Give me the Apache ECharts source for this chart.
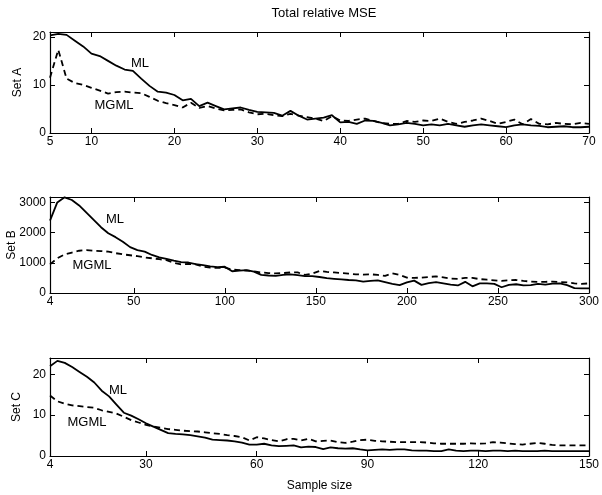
<!DOCTYPE html>
<html>
<head>
<meta charset="utf-8">
<script src="https://cdn.jsdelivr.net/npm/echarts@6/dist/echarts.min.js"></script>
<style>
  html, body { margin: 0; padding: 0; background: #fff; }
  #main { width: 602px; height: 495px; }
</style>
</head>
<body>
<div id="main"></div>
<script>
// sample sizes (x grid of each panel)
function range(a, b, step) {
    const out = [];
    for (let v = a; v <= b; v += step) out.push(v);
    return out;
}
const sizesA = range(5, 70, 1);
const sizesB = range(4, 300, 4);
const sizesC = range(4, 150, 2);

// Set A
const mlA = [20.3, 20.6, 20.4, 19.2, 18.0, 16.5, 16.0, 15.0, 14.0, 13.2,
    12.9, 11.3, 9.8, 8.6, 8.4, 7.9, 6.8, 7.1, 5.6, 6.3,
    5.6, 4.9, 5.1, 5.3, 4.8, 4.4, 4.3, 4.2, 3.6, 4.6,
    3.6, 2.8, 3.0, 3.2, 3.7, 2.2, 2.3, 1.9, 2.6, 2.5,
    2.1, 1.6, 1.8, 2.1, 1.9, 1.6, 1.8, 1.6, 1.9, 1.6,
    1.3, 1.6, 1.8, 1.6, 1.4, 1.2, 1.6, 1.8, 1.6, 1.5,
    1.2, 1.3, 1.4, 1.2, 1.2, 1.3];
const mgmlA = [11.5, 17.3, 11.3, 10.4, 10.0, 9.4, 8.8, 8.2, 8.5, 8.6,
    8.4, 8.3, 7.5, 6.7, 6.2, 5.8, 5.3, 6.3, 5.2, 5.6,
    5.1, 4.7, 4.8, 4.9, 4.3, 3.9, 4.0, 3.7, 3.5, 4.0,
    3.6, 3.3, 3.0, 2.5, 3.5, 2.6, 2.5, 2.8, 3.0, 2.5,
    2.1, 1.9, 1.9, 2.5, 2.3, 2.6, 2.5, 3.0, 2.3, 1.9,
    2.3, 2.6, 3.0, 2.5, 1.9, 2.3, 2.8, 1.8, 2.9, 1.9,
    1.8, 2.1, 1.9, 1.8, 2.1, 1.9];

// Set B
const mlB = [2400, 3000, 3170, 3080, 2900, 2660, 2420, 2180, 1980, 1850,
    1700, 1520, 1420, 1370, 1260, 1180, 1130, 1070, 1020, 1010,
    960, 920, 880, 860, 870, 720, 740, 760, 710, 600,
    580, 570, 600, 620, 590, 560, 560, 530, 490, 470,
    450, 430, 420, 380, 400, 420, 360, 300, 260, 350,
    410, 270, 330, 360, 320, 280, 250, 370, 220, 320,
    320, 300, 190, 270, 290, 250, 260, 300, 280, 310,
    320, 260, 160, 150, 150];
const mgmlB = [950, 1150, 1280, 1340, 1400, 1420, 1400, 1390, 1370, 1320,
    1280, 1250, 1220, 1180, 1150, 1120, 1090, 1000, 950, 960,
    950, 870, 840, 830, 840, 780, 760, 740, 720, 680,
    660, 650, 660, 680, 680, 600, 640, 730, 700, 680,
    660, 640, 620, 610, 620, 600, 570, 650, 600, 510,
    500, 510, 530, 550, 520, 480, 470, 500, 500, 460,
    440, 420, 400, 420, 430, 400, 380, 370, 370, 380,
    360, 350, 320, 300, 320];

// Set C
const mlC = [22.0, 23.3, 22.8, 21.8, 20.6, 19.4, 18.0, 16.0, 14.6, 12.6,
    10.6, 9.9, 9.0, 8.0, 7.2, 6.4, 5.6, 5.4, 5.3, 5.1,
    4.8, 4.5, 4.0, 3.9, 3.8, 3.6, 3.3, 2.8, 2.8, 3.0,
    2.6, 2.4, 2.5, 2.6, 2.1, 2.3, 2.2, 1.7, 2.1, 1.9,
    1.8, 1.9, 1.6, 1.4, 1.5, 1.6, 1.5, 1.6, 1.6, 1.4,
    1.3, 1.3, 1.2, 1.2, 1.6, 1.3, 1.2, 1.3, 1.3, 1.2,
    1.3, 1.3, 1.2, 1.3, 1.2, 1.2, 1.2, 1.3, 1.2, 1.2,
    1.2, 1.2, 1.2, 1.2];
const mgmlC = [14.8, 13.4, 12.8, 12.4, 12.2, 12.0, 11.8, 11.2, 10.8, 10.4,
    9.6, 8.8, 8.2, 7.6, 7.2, 6.9, 6.6, 6.4, 6.2, 6.1,
    6.0, 5.8, 5.6, 5.4, 5.1, 4.9, 4.6, 3.8, 4.6, 4.3,
    3.9, 3.6, 4.1, 4.2, 3.8, 4.2, 3.6, 3.7, 3.8, 3.4,
    3.2, 3.5, 3.9, 4.0, 3.7, 3.6, 3.5, 3.4, 3.4, 3.4,
    3.4, 3.3, 3.1, 3.0, 3.0, 3.0, 3.0, 3.1, 3.0, 3.1,
    3.4, 3.3, 3.1, 2.9, 2.8, 3.0, 3.2, 3.0, 2.7, 2.6,
    2.6, 2.6, 2.6, 2.6];

// tick labels
const xTicksA = [5, 10, 20, 30, 40, 50, 60, 70];
const xTicksB = [4, 50, 100, 150, 200, 250, 300];
const xTicksC = [4, 30, 60, 90, 120, 150];
const yTicksA = [0, 10, 20];
const yTicksB = [0, 1000, 2000, 3000];
const yTicksC = [0, 10, 20];
const setNames = ['Set A', 'Set B', 'Set C'];

const FONT = 'Liberation Sans';
const panels = [
    { x: sizesA, ml: mlA, mgml: mgmlA, xt: xTicksA, yt: yTicksA, xmin: 5, xmax: 70, ymax: 21, top: 32, h: 101, nameX: 18 },
    { x: sizesB, ml: mlB, mgml: mgmlB, xt: xTicksB, yt: yTicksB, xmin: 4, xmax: 300, ymax: 3180, top: 197, h: 96, nameX: 12 },
    { x: sizesC, ml: mlC, mgml: mgmlC, xt: xTicksC, yt: yTicksC, xmin: 4, xmax: 150, ymax: 24, top: 358, h: 98, nameX: 17 }
];

const pairs = (xs, ys) => xs.map((v, i) => [v, ys[i]]);
const boxLine = { show: true, onZero: false, lineStyle: { color: '#000', width: 1.2 } };
const plain = v => String(v);

const grid = [], xAxis = [], yAxis = [], series = [];
panels.forEach((p, i) => {
    grid.push({ left: 50, right: 13, top: p.top, height: p.h, outerBoundsMode: 'none', containLabel: false });
    // bottom + top x axes
    xAxis.push({
        type: 'value', gridIndex: i, min: p.xmin, max: p.xmax, position: 'bottom',
        axisLine: boxLine,
        axisTick: { inside: true, length: 5, customValues: p.xt, lineStyle: { color: '#000' } },
        axisLabel: { customValues: p.xt, formatter: plain, color: '#000', fontSize: 12, fontFamily: FONT, margin: 3 },
        splitLine: { show: false },
        name: i === 2 ? 'Sample size' : '', nameLocation: 'middle', nameGap: 24,
        nameTextStyle: { color: '#000', fontSize: 12, fontFamily: FONT }
    });
    xAxis.push({
        type: 'value', gridIndex: i, min: p.xmin, max: p.xmax, position: 'top',
        axisLine: boxLine,
        axisTick: { inside: true, length: 5, customValues: p.xt, lineStyle: { color: '#000' } },
        axisLabel: { show: false },
        splitLine: { show: false }
    });
    // left + right y axes
    yAxis.push({
        type: 'value', gridIndex: i, min: 0, max: p.ymax, position: 'left',
        axisLine: boxLine,
        axisTick: { show: true, inside: true, length: 5, customValues: p.yt, lineStyle: { color: '#000' } },
        axisLabel: { customValues: p.yt, formatter: plain, color: '#000', fontSize: 12, fontFamily: FONT, margin: 4 },
        splitLine: { show: false }
    });
    yAxis.push({
        type: 'value', gridIndex: i, min: 0, max: p.ymax, position: 'right',
        axisLine: boxLine,
        axisTick: { show: true, inside: true, length: 5, customValues: p.yt, lineStyle: { color: '#000' } },
        axisLabel: { show: false },
        splitLine: { show: false }
    });
    series.push({
        type: 'line', name: 'ML', xAxisIndex: i * 2, yAxisIndex: i * 2,
        data: pairs(p.x, p.ml), showSymbol: false, silent: true,
        lineStyle: { color: '#000', width: 1.8 }
    });
    series.push({
        type: 'line', name: 'MGML', xAxisIndex: i * 2, yAxisIndex: i * 2,
        data: pairs(p.x, p.mgml), showSymbol: false, silent: true,
        lineStyle: { color: '#000', width: 1.8, type: [6, 4] }
    });
});

// curve labels
const labels = [
    ['ML', 140, 63], ['MGML', 114, 105],
    ['ML', 115, 219], ['MGML', 92, 265],
    ['ML', 118, 390], ['MGML', 87, 422]
];

const graphic = labels.map(l => ({
    type: 'text', x: l[1], y: l[2],
    style: { text: l[0], fill: '#000', font: '13px "Liberation Sans"', align: 'center', verticalAlign: 'middle' }
}));
// rotated y-axis titles
panels.forEach((p, i) => {
    graphic.push({
        type: 'text', x: p.nameX, y: p.top + p.h / 2, rotation: Math.PI / 2,
        style: { text: setNames[i], fill: '#000', font: '12px "Liberation Sans"', align: 'center', verticalAlign: 'middle' }
    });
});

const option = {
    animation: false,
    backgroundColor: '#fff',
    title: {
        text: 'Total relative MSE', left: 319, top: 2, textAlign: 'center',
        textStyle: { color: '#000', fontSize: 13, fontWeight: 'normal', fontFamily: FONT }
    },
    grid: grid,
    xAxis: xAxis,
    yAxis: yAxis,
    series: series,
    graphic: graphic
};

const myChart = echarts.init(document.getElementById('main'));
myChart.setOption(option);
</script>
</body>
</html>
